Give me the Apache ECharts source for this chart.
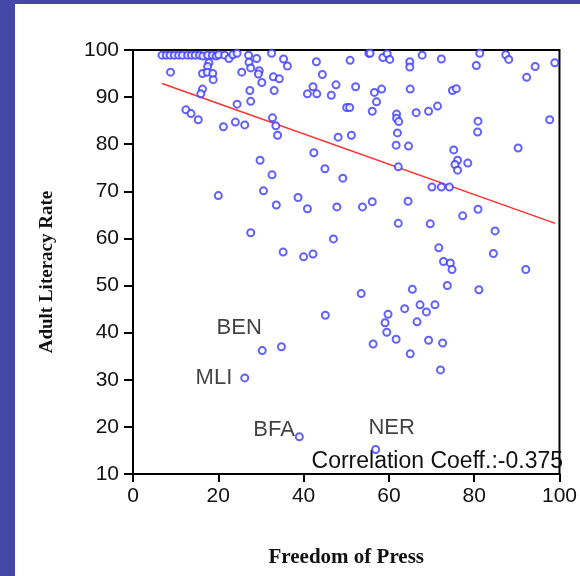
<!DOCTYPE html>
<html>
<head>
<meta charset="utf-8">
<script src="https://cdn.jsdelivr.net/npm/echarts@6/dist/echarts.min.js"></script>
<style>
  html, body { margin: 0; padding: 0; background: #4447a8; width: 580px; height: 576px; overflow: hidden; }
  #chart { position: absolute; left: 15px; top: 4px; width: 565px; height: 572px; background: #ffffff; }
</style>
</head>
<body>
<div id="chart"></div>
<script>
// Freedom of Press (x) and Adult Literacy Rate (y) for unlabeled countries
const freedom = [
  6.8,7.8,8.7,9.7,10.7,11.6,12.8,13.7,14.6,15.6,16.4,17.5,18.6,19.5,20.1,21.5,22.5,23.4,24.4,
  27.1,29.0,32.5,17.8,17.5,8.8,16.3,17.4,18.7,18.8,25.5,27.2,27.6,29.6,29.4,30.2,32.9,33.1,27.4,27.6,
  16.3,15.9,24.4,12.4,13.6,15.3,21.2,24.0,26.2,32.7,33.5,33.9,29.8,32.6,30.6,
  35.3,36.2,43.0,50.9,55.3,55.6,58.6,59.6,60.2,64.9,64.9,34.3,44.4,42.2,40.9,43.1,46.5,47.6,52.2,
  50.1,50.8,56.6,58.3,57.1,56.1,65.0,61.8,61.8,62.3,66.4,48.1,51.2,62.0,61.7,64.6,42.4,62.2,45.0,49.2,
  67.8,72.3,81.3,87.4,88.1,80.5,94.3,98.9,92.3,74.9,75.8,69.3,71.4,80.9,80.8,97.7,75.2,90.3,76.1,75.5,
  76.1,78.5,70.1,72.3,74.2,
  20.0,33.6,27.6,
  38.7,40.9,47.8,53.8,56.1,64.5,62.2,47.0,35.2,40.0,42.2,53.5,65.5,45.1,63.7,59.8,59.1,66.6,
  80.9,77.3,69.7,84.9,71.7,84.5,72.8,74.4,74.8,92.1,73.7,81.1,67.3,70.8,68.8,
  34.8,59.5,61.7,56.3,65.0,
  69.3,72.6,72.1
];
const literacy = [
  98.9,98.9,98.9,98.9,98.9,98.9,98.9,98.9,98.9,98.9,98.7,98.9,98.9,98.7,99.0,98.9,98.2,99.0,99.3,
  98.9,98.2,99.3,97.3,96.5,95.3,95.0,95.3,95.0,93.7,95.3,97.4,96.2,95.6,94.9,93.1,94.3,91.4,91.4,89.1,
  91.7,90.7,88.5,87.3,86.5,85.2,83.7,84.7,84.1,85.6,83.9,81.9,76.6,73.5,70.1,
  98.1,96.6,97.5,97.8,99.3,99.3,98.4,99.2,98.0,97.5,96.4,93.9,94.8,92.2,90.7,90.7,90.4,92.6,92.2,
  87.8,87.8,91.0,91.7,89.0,87.0,91.7,86.4,85.5,84.8,86.7,81.5,81.9,82.4,79.8,79.6,78.2,75.2,74.8,72.8,
  98.9,98.1,99.3,99.0,98.0,96.7,96.5,97.3,94.2,91.4,91.8,87.0,88.1,84.9,82.6,85.2,78.8,79.2,76.6,75.7,
  74.5,76.0,70.9,70.9,70.9,
  69.1,67.1,61.2,
  68.7,66.3,66.7,66.7,67.8,67.9,63.2,59.9,57.1,56.1,56.7,48.3,49.2,43.7,45.1,43.9,42.1,42.3,
  66.2,64.8,63.1,61.6,58.0,56.8,55.1,54.8,53.4,53.4,50.0,49.1,45.9,45.9,44.4,
  37.0,40.1,38.6,37.6,35.5,
  38.4,37.8,32.1
];
// labeled countries
const labelNames = ['BEN', 'MLI', 'BFA', 'NER'];
const labelFreedom = [30.3, 26.2, 39.0, 56.9];
const labelLiteracy = [36.2, 30.4, 17.9, 15.2];
// fitted regression line end points
const fitX = [6.8, 99.0];
const fitY = [92.9, 63.2];
const xTicks = [0, 20, 40, 60, 80, 100];
const yTicks = [10, 20, 30, 40, 50, 60, 70, 80, 90, 100];
const corrText = 'Correlation Coeff.:-0.375';

const labelStyles = {
  BEN: { position: 'top', distance: 5, offset: [-23, -2] },
  MLI: { position: 'left', distance: 8, offset: [0, 0] },
  BFA: { position: 'left', distance: 0, offset: [0, -7] },
  NER: { position: 'top', distance: 5, offset: [16, -1] }
};

const chart = echarts.init(document.getElementById('chart'), null, { renderer: 'canvas' });
const ptColor = '#3a3aff';
const txtFont = '"Liberation Sans", Arial, sans-serif';
const txtColor = '#111';

const option = {
  animation: false,
  backgroundColor: '#ffffff',
  grid: {
    left: 118, right: 15, top: 46, bottom: 102,
    show: true, borderColor: '#000', borderWidth: 2, backgroundColor: 'transparent'
  },
  xAxis: {
    type: 'value', min: xTicks[0], max: xTicks[xTicks.length - 1], interval: 20,
    name: 'Freedom of Press', nameLocation: 'middle', nameGap: 73,
    nameTextStyle: { fontFamily: '"Liberation Serif", "Times New Roman", serif', fontWeight: 'bold', fontSize: 21, color: txtColor },
    axisLine: { show: true, lineStyle: { color: '#000', width: 2 } },
    axisTick: { show: true, length: 8, lineStyle: { color: '#000', width: 2 } },
    axisLabel: { margin: 12, fontSize: 21, fontFamily: txtFont, color: txtColor },
    splitLine: { show: false }
  },
  yAxis: {
    type: 'value', min: yTicks[0], max: yTicks[yTicks.length - 1], interval: 10,
    name: 'Adult Literacy Rate', nameLocation: 'middle', nameGap: 76,
    nameTextStyle: { fontFamily: '"Liberation Serif", "Times New Roman", serif', fontWeight: 'bold', fontSize: 19, color: txtColor, padding: [0, 20, 0, 0] },
    axisLine: { show: true, lineStyle: { color: '#000', width: 2 } },
    axisTick: { show: true, length: 9, lineStyle: { color: '#000', width: 2 } },
    axisLabel: { margin: 14, fontSize: 21, fontFamily: txtFont, color: txtColor },
    splitLine: { show: false }
  },
  graphic: [{
    type: 'text', right: 17, top: 446,
    style: { text: corrText, font: '23px ' + txtFont, fill: txtColor }
  }],
  series: [
    {
      type: 'scatter',
      symbol: 'emptyCircle', symbolSize: 7,
      itemStyle: { color: ptColor, borderColor: ptColor, borderWidth: 1.5 },
      data: freedom.map((x, i) => [x, literacy[i]]),
      z: 3
    },
    {
      type: 'line',
      symbol: 'none',
      lineStyle: { color: '#ff3030', width: 1.5 },
      data: fitX.map((x, i) => [x, fitY[i]]),
      z: 2
    },
    {
      type: 'scatter',
      symbol: 'emptyCircle', symbolSize: 7,
      itemStyle: { color: ptColor, borderColor: ptColor, borderWidth: 1.5 },
      data: labelNames.map((n, i) => ({
        name: n,
        value: [labelFreedom[i], labelLiteracy[i]],
        label: Object.assign({
          show: true, formatter: n, fontSize: 22, fontFamily: txtFont, color: txtColor
        }, labelStyles[n])
      })),
      z: 4
    }
  ]
};
chart.setOption(option);
</script>
</body>
</html>
